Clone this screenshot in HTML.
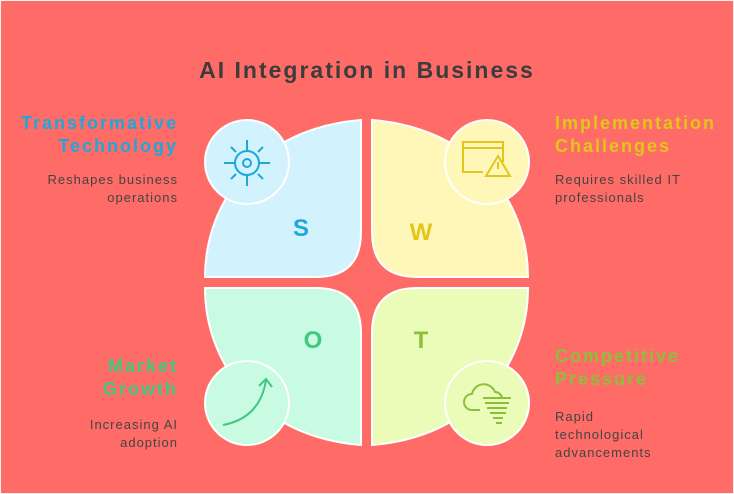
<!DOCTYPE html>
<html><head><meta charset="utf-8"><style>
body{margin:0;width:734px;height:494px;background:#ff6b66;overflow:hidden;font-family:"Liberation Sans",sans-serif}
</style></head><body>
<svg width="734" height="494" viewBox="0 0 734 494" xmlns="http://www.w3.org/2000/svg" style="position:absolute;left:0;top:0">
<rect x="0.5" y="0.5" width="733" height="493" fill="#ff6b66" stroke="#f4f4f4" stroke-width="1"/>
<text x="367" y="78" text-anchor="middle" font-size="23" font-weight="bold" letter-spacing="2" fill="#3c3c3c">AI Integration in Business</text>
<g stroke="#fff" stroke-width="2">
<path d="M205,277 C205,200 260,128 361,120 L361,232 Q361,277 316,277 Z" fill="#d2f3fd"/>
<path d="M528,277 C528,200 473,128 372,120 L372,232 Q372,277 417,277 Z" fill="#fff7b8"/>
<path d="M205,288 C205,365 260,437 361,445 L361,333 Q361,288 316,288 Z" fill="#c8fbe2"/>
<path d="M528,288 C528,365 473,437 372,445 L372,333 Q372,288 417,288 Z" fill="#eafcb8"/>
<circle cx="247" cy="162" r="42" fill="#d2f3fd"/>
<circle cx="487" cy="162" r="42" fill="#fff7b8"/>
<circle cx="247" cy="403" r="42" fill="#c8fbe2"/>
<circle cx="487" cy="403" r="42" fill="#eafcb8"/>
</g>
<g font-size="24" font-weight="bold" text-anchor="middle">
<text x="301" y="236" fill="#1ea7d9">S</text>
<text x="421" y="240" fill="#e3c51b">W</text>
<text x="313" y="348" fill="#3ec97e">O</text>
<text x="421" y="348" fill="#8cbf3c">T</text>
</g>
<g stroke="#1ea7d9" stroke-width="2" fill="none">
<circle cx="247" cy="163" r="12"/><circle cx="247" cy="163" r="4"/>
<path d="M247,140v11M247,175v11M224,163h11M259,163h11M231,147l5,5M258,174l5,5M263,147l-5,5M236,174l-5,5"/>
</g>
<g stroke="#e3c51b" stroke-width="2" fill="none">
<path d="M483,172h-20v-30h40v20M463,148h40"/>
<path d="M498,156l-12,20h24z"/><path d="M498,162v7"/>
</g>
<path d="M223,425 Q260,418 266,380 M259,386l7,-7 6,8" stroke="#3ec97e" stroke-width="2" fill="none"/>
<g stroke="#8cbf3c" stroke-width="2" fill="none">
<path d="M480,410h-8a8,8 0 0 1 0,-16a12,12 0 0 1 23,-2a7,7 0 0 1 7,6"/>
<path d="M483,398h28M485,403h24M487,408h20M490,413h16M493,418h10M496,423h6"/>
</g>
<g font-size="18" font-weight="bold" letter-spacing="2">
<text x="178" y="129" text-anchor="end" fill="#1ea7d9">Transformative</text>
<text x="178" y="152" text-anchor="end" fill="#1ea7d9">Technology</text>
<text x="555" y="129" fill="#e3c51b">Implementation</text>
<text x="555" y="152" fill="#e3c51b">Challenges</text>
<text x="178" y="372" text-anchor="end" fill="#3ec97e">Market</text>
<text x="178" y="395" text-anchor="end" fill="#3ec97e">Growth</text>
<text x="555" y="362" fill="#8cbf3c">Competitive</text>
<text x="555" y="385" fill="#8cbf3c">Pressure</text>
</g>
<g font-size="13" fill="#444" letter-spacing="1">
<text x="178" y="184" text-anchor="end">Reshapes business</text>
<text x="178" y="202" text-anchor="end">operations</text>
<text x="555" y="184">Requires skilled IT</text>
<text x="555" y="202">professionals</text>
<text x="178" y="429" text-anchor="end">Increasing AI</text>
<text x="178" y="447" text-anchor="end">adoption</text>
<text x="555" y="421">Rapid</text>
<text x="555" y="439">technological</text>
<text x="555" y="457">advancements</text>
</g>
</svg>
</body></html>
